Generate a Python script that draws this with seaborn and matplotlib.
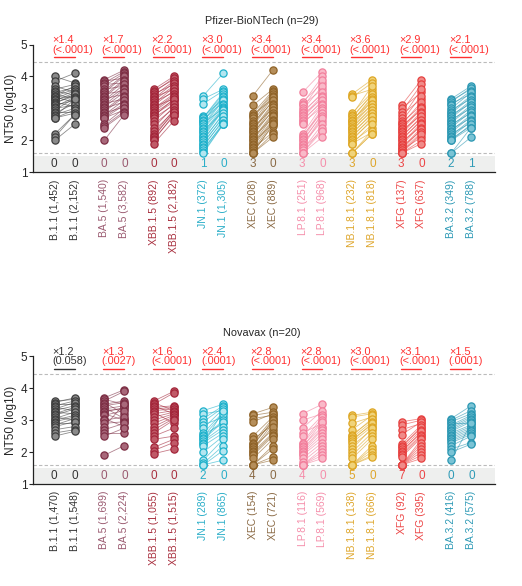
import numpy as np
import pandas as pd
import seaborn as sns
import matplotlib.pyplot as plt

variants = ['B.1.1', 'BA.5', 'XBB.1.5', 'JN.1', 'XEC', 'LP.8.1', 'NB.1.8.1', 'XFG', 'BA.3.2']

# Pfizer-BioNTech, n=29, log10 NT50 before / after
pf_b11_pre = [4.0, 3.85, 3.7, 3.6, 3.55, 3.5, 3.45, 3.4, 3.38, 3.35, 3.3, 3.28, 3.25, 3.2, 3.18, 3.15, 3.1, 3.05, 3.0, 2.95, 2.9, 2.85, 2.8, 2.75, 2.7, 2.7, 2.2, 2.1, 2.0]
pf_b11_post = [3.8, 4.1, 3.5, 3.75, 3.42, 3.65, 3.3, 3.7, 3.6, 3.2, 3.55, 3.4, 3.48, 3.05, 3.38, 3.45, 3.25, 3.35, 3.1, 3.32, 2.9, 3.15, 3.0, 3.28, 2.95, 2.85, 2.8, 2.8, 2.5]
pf_ba5_pre = [3.9, 3.85, 3.8, 3.75, 3.7, 3.6, 3.55, 3.5, 3.45, 3.4, 3.35, 3.3, 3.25, 3.2, 3.15, 3.1, 3.05, 3.0, 2.95, 2.9, 2.85, 2.8, 2.75, 2.7, 2.7, 2.5, 2.45, 2.4, 2.0]
pf_ba5_post = [4.2, 3.95, 4.15, 3.8, 4.1, 3.7, 4.05, 4.0, 3.55, 3.9, 3.85, 3.45, 3.75, 3.65, 3.3, 3.6, 3.5, 3.2, 3.4, 3.35, 3.05, 3.25, 3.15, 2.95, 3.1, 3.0, 2.9, 2.85, 2.8]
pf_xbb_pre = [3.6, 3.55, 3.5, 3.45, 3.4, 3.35, 3.3, 3.25, 3.2, 3.15, 3.1, 3.05, 3.0, 2.95, 2.9, 2.85, 2.8, 2.75, 2.7, 2.6, 2.5, 2.4, 2.3, 2.2, 2.15, 2.1, 2.05, 2.0, 1.9]
pf_xbb_post = [4.0, 3.9, 3.95, 3.75, 3.85, 3.6, 3.8, 3.7, 3.5, 3.65, 3.55, 3.3, 3.45, 3.4, 3.35, 3.25, 3.2, 3.3, 3.1, 3.15, 3.0, 3.05, 2.9, 2.95, 2.85, 2.9, 2.75, 2.8, 2.6]
pf_jn1_pre = [3.4, 3.3, 3.15, 2.75, 2.72, 2.7, 2.65, 2.62, 2.6, 2.55, 2.5, 2.45, 2.4, 2.35, 2.3, 2.25, 2.2, 2.15, 2.1, 2.05, 2.0, 1.95, 1.9, 1.85, 1.8, 1.75, 1.7, 1.65, 1.6]
pf_jn1_post = [4.1, 3.6, 3.55, 3.3, 3.5, 3.45, 3.2, 3.4, 3.35, 3.0, 3.3, 3.25, 3.15, 3.1, 2.9, 3.05, 3.0, 2.98, 2.95, 2.8, 2.85, 2.7, 2.75, 2.6, 2.65, 2.5, 2.55, 2.5, 2.5]
pf_xec_pre = [3.4, 3.1, 2.85, 2.8, 2.75, 2.7, 2.6, 2.55, 2.5, 2.45, 2.4, 2.35, 2.3, 2.25, 2.2, 2.15, 2.1, 2.05, 2.0, 1.95, 1.9, 1.85, 1.8, 1.75, 1.7, 1.65, 1.6, 1.6, 1.6]
pf_xec_post = [4.2, 3.6, 3.55, 3.3, 3.5, 3.45, 3.4, 3.2, 3.35, 3.25, 3.0, 3.15, 3.1, 2.9, 3.05, 2.95, 2.7, 2.85, 2.8, 2.5, 2.75, 2.65, 2.6, 2.25, 2.55, 2.45, 2.5, 2.2, 2.1]
pf_lp81_pre = [3.5, 3.2, 3.15, 3.1, 3.0, 2.95, 2.9, 2.85, 2.8, 2.75, 2.7, 2.65, 2.6, 2.55, 2.5, 2.2, 2.15, 2.1, 2.05, 2.0, 1.95, 1.9, 1.85, 1.8, 1.75, 1.7, 1.6, 1.6, 1.6]
pf_lp81_post = [4.15, 3.8, 4.0, 3.6, 3.9, 3.7, 3.45, 3.5, 3.3, 3.4, 3.35, 3.2, 3.25, 3.05, 3.15, 3.1, 2.9, 3.0, 2.95, 2.8, 2.85, 2.6, 2.75, 2.7, 2.3, 2.5, 2.4, 2.3, 2.1]
pf_nb181_pre = [3.45, 3.4, 3.35, 2.85, 2.8, 2.75, 2.7, 2.65, 2.6, 2.6, 2.55, 2.5, 2.45, 2.4, 2.4, 2.35, 2.3, 2.25, 2.2, 2.15, 2.1, 2.05, 2.0, 1.95, 1.9, 1.9, 1.6, 1.6, 1.6]
pf_nb181_post = [3.9, 3.6, 3.8, 3.5, 3.7, 3.4, 3.45, 3.2, 3.35, 3.3, 3.1, 3.25, 3.15, 3.0, 3.05, 2.9, 2.95, 2.8, 2.85, 2.7, 2.75, 2.6, 2.65, 2.4, 2.5, 2.25, 2.3, 2.2, 2.2]
pf_xfg_pre = [3.1, 3.0, 2.9, 2.8, 2.7, 2.6, 2.55, 2.5, 2.45, 2.4, 2.35, 2.3, 2.25, 2.2, 2.15, 2.1, 2.05, 2.0, 1.95, 1.9, 1.85, 1.8, 1.75, 1.7, 1.7, 1.65, 1.6, 1.6, 1.6]
pf_xfg_post = [3.9, 3.5, 3.75, 3.3, 3.6, 3.4, 3.1, 3.2, 2.95, 3.05, 3.0, 2.8, 2.9, 2.85, 2.7, 2.75, 2.6, 2.65, 2.45, 2.55, 2.5, 2.3, 2.4, 2.35, 2.1, 2.25, 2.2, 2.0, 1.9]
pf_ba32_pre = [3.3, 3.25, 3.2, 3.15, 3.1, 3.0, 2.95, 2.9, 2.85, 2.8, 2.75, 2.7, 2.65, 2.6, 2.55, 2.5, 2.45, 2.4, 2.35, 2.3, 2.25, 2.2, 2.15, 2.1, 2.05, 2.0, 2.0, 1.6, 1.6]
pf_ba32_post = [3.7, 3.6, 3.65, 3.45, 3.55, 3.5, 3.3, 3.4, 3.35, 3.15, 3.25, 3.2, 3.0, 3.1, 3.05, 2.85, 2.95, 2.9, 2.7, 2.8, 2.75, 2.55, 2.65, 2.6, 2.45, 2.5, 2.4, 2.4, 2.1]

# Novavax, n=20
nv_b11_pre = [3.6, 3.55, 3.5, 3.45, 3.4, 3.35, 3.3, 3.25, 3.2, 3.15, 3.1, 3.05, 3.0, 2.95, 2.9, 2.85, 2.8, 2.7, 2.6, 2.5]
nv_b11_post = [3.65, 3.7, 3.5, 3.6, 3.3, 3.55, 3.45, 3.2, 3.4, 3.35, 3.0, 3.25, 3.15, 3.1, 2.9, 3.05, 2.95, 2.8, 2.7, 2.65]
nv_ba5_pre = [3.7, 3.65, 3.6, 3.55, 3.5, 3.45, 3.4, 3.35, 3.3, 3.25, 3.2, 3.15, 3.05, 3.0, 2.9, 2.8, 2.7, 2.6, 2.5, 1.9]
nv_ba5_post = [3.95, 3.5, 3.9, 3.2, 3.6, 3.55, 3.05, 3.45, 3.35, 3.4, 3.0, 3.3, 2.8, 3.1, 2.95, 3.5, 2.9, 2.6, 2.75, 2.2]
nv_xbb_pre = [3.6, 3.55, 3.5, 3.45, 3.4, 3.35, 3.3, 3.25, 3.2, 3.1, 3.0, 2.9, 2.8, 2.7, 2.6, 2.5, 2.4, 2.15, 2.05, 1.95]
nv_xbb_post = [3.9, 3.3, 3.85, 3.2, 3.45, 3.4, 3.35, 2.9, 3.3, 3.25, 3.2, 3.15, 3.1, 3.05, 3.0, 2.75, 2.5, 2.4, 2.3, 2.1]
nv_jn1_pre = [3.3, 3.2, 3.05, 2.95, 2.85, 2.75, 2.6, 2.55, 2.5, 2.45, 2.4, 2.35, 2.3, 2.25, 2.2, 2.0, 1.75, 1.65, 1.6, 1.6]
nv_jn1_post = [3.5, 3.3, 3.45, 3.4, 3.1, 3.35, 3.25, 2.9, 3.2, 3.0, 2.95, 2.8, 2.7, 3.3, 2.6, 2.5, 2.4, 2.2, 2.05, 1.75]
nv_xec_pre = [3.2, 3.15, 3.05, 2.95, 2.5, 2.4, 2.3, 2.25, 2.2, 2.15, 2.1, 2.05, 2.0, 1.95, 1.9, 1.8, 1.6, 1.6, 1.6, 1.6]
nv_xec_post = [3.4, 3.25, 3.15, 3.2, 3.1, 2.85, 3.05, 2.95, 3.0, 2.7, 2.9, 2.8, 2.6, 2.55, 2.5, 2.4, 2.2, 2.1, 1.85, 1.75]
nv_lp81_pre = [3.2, 3.0, 2.75, 2.6, 2.5, 2.3, 2.25, 2.2, 2.15, 2.1, 2.05, 2.0, 1.95, 1.9, 1.8, 1.7, 1.6, 1.6, 1.6, 1.6]
nv_lp81_post = [3.5, 3.2, 3.3, 2.9, 3.15, 3.1, 3.0, 2.8, 2.95, 2.75, 2.7, 2.6, 2.5, 2.4, 2.3, 2.2, 2.1, 2.0, 1.9, 1.8]
nv_nb181_pre = [3.15, 3.1, 2.9, 2.7, 2.55, 2.5, 2.45, 2.4, 2.35, 2.3, 2.2, 2.1, 2.0, 1.9, 1.8, 1.6, 1.6, 1.6, 1.6, 1.6]
nv_nb181_post = [3.25, 3.2, 3.1, 3.15, 3.0, 3.05, 2.95, 2.85, 2.9, 2.8, 2.7, 2.75, 2.6, 2.5, 2.4, 2.2, 2.1, 2.0, 1.9, 1.85]
nv_xfg_pre = [2.95, 2.85, 2.7, 2.55, 2.25, 2.2, 2.15, 2.1, 2.05, 2.0, 1.95, 1.9, 1.85, 1.6, 1.6, 1.6, 1.6, 1.6, 1.6, 1.6]
nv_xfg_post = [3.05, 3.0, 2.9, 2.95, 2.85, 2.75, 2.8, 2.7, 2.6, 2.65, 2.55, 2.5, 2.45, 2.4, 2.3, 2.2, 2.1, 2.0, 1.9, 1.8]
nv_ba32_pre = [3.05, 3.0, 2.95, 2.9, 2.85, 2.8, 2.75, 2.7, 2.65, 2.6, 2.55, 2.5, 2.45, 2.4, 2.35, 2.3, 2.2, 2.1, 2.0, 1.75]
nv_ba32_post = [3.45, 3.3, 3.2, 2.9, 3.15, 3.1, 3.05, 3.0, 2.95, 2.85, 2.8, 2.75, 2.7, 2.65, 2.6, 2.55, 2.5, 2.3, 2.25, 2.9]

# GMTs, folds, p values, counts below LOD
pf_gmt_pre = ['1,452', '1,540', '892', '372', '208', '251', '232', '137', '349']
pf_gmt_post = ['2,152', '3,582', '2,182', '1,305', '889', '968', '818', '637', '788']
pf_fold = ['×1.4', '×1.7', '×2.2', '×3.0', '×3.4', '×3.4', '×3.6', '×2.9', '×2.1']
pf_p = ['(<.0001)'] * 9
pf_lod_pre = [0, 0, 0, 1, 3, 3, 3, 3, 2]
pf_lod_post = [0, 0, 0, 0, 0, 0, 0, 0, 1]

nv_gmt_pre = ['1,470', '1,699', '1,055', '289', '154', '116', '138', '92', '416']
nv_gmt_post = ['1,548', '2,224', '1,515', '865', '721', '569', '666', '395', '575']
nv_fold = ['×1.2', '×1.3', '×1.6', '×2.4', '×2.8', '×2.8', '×3.0', '×3.1', '×1.5']
nv_p = ['(0.058)', '(.0027)', '(<.0001)', '(.0001)', '(<.0001)', '(<.0001)', '(<.0001)', '(<.0001)', '(.0001)']
nv_lod_pre = [0, 0, 0, 2, 4, 4, 5, 7, 0]
nv_lod_post = [0, 0, 0, 0, 0, 0, 0, 0, 0]

edge_colors = ['#3f3f3f', '#7d2f45', '#a3263a', '#1fb1cb', '#8f6328', '#f27f9c', '#dda624', '#e6403f', '#2b97b2']
face_colors = ['#8a8a8a', '#a8687a', '#c05a68', '#b3e6f0', '#b58e5a', '#f9b9c8', '#f0d37a', '#f08a88', '#7ac3d5']
text_colors = ['#333333', '#9a5a70', '#a8303f', '#2aaec8', '#8a6a45', '#f58fab', '#dea52a', '#ec4545', '#2e9ab6']

sns.set_style('ticks')
plt.rcParams['font.family'] = ['Liberation Sans', 'DejaVu Sans']

fig = plt.figure(figsize=(5.22, 5.86), dpi=100)
ax_top = fig.add_axes([0.063, 0.706, 0.885, 0.218])
ax_bot = fig.add_axes([0.063, 0.174, 0.885, 0.218])

panels = [
    (ax_top,
     [pf_b11_pre, pf_ba5_pre, pf_xbb_pre, pf_jn1_pre, pf_xec_pre, pf_lp81_pre, pf_nb181_pre, pf_xfg_pre, pf_ba32_pre],
     [pf_b11_post, pf_ba5_post, pf_xbb_post, pf_jn1_post, pf_xec_post, pf_lp81_post, pf_nb181_post, pf_xfg_post, pf_ba32_post],
     pf_gmt_pre, pf_gmt_post, pf_fold, pf_p, pf_lod_pre, pf_lod_post),
    (ax_bot,
     [nv_b11_pre, nv_ba5_pre, nv_xbb_pre, nv_jn1_pre, nv_xec_pre, nv_lp81_pre, nv_nb181_pre, nv_xfg_pre, nv_ba32_pre],
     [nv_b11_post, nv_ba5_post, nv_xbb_post, nv_jn1_post, nv_xec_post, nv_lp81_post, nv_nb181_post, nv_xfg_post, nv_ba32_post],
     nv_gmt_pre, nv_gmt_post, nv_fold, nv_p, nv_lod_pre, nv_lod_post),
]

for ax, pre_sets, post_sets, g_pre, g_post, folds, pvals, lod_pre, lod_post in panels:
    ax.axhspan(1, 1.5, color='#eeefee', lw=0, zorder=0)
    ax.axhline(1.6, color='#bbbbbb', ls=(0, (3, 2)), lw=0.8, zorder=1)
    ax.axhline(4.45, color='#bbbbbb', ls=(0, (3, 2)), lw=0.8, zorder=1)

    ticks, labels, lab_cols = [], [], []
    for i, v in enumerate(variants):
        pre, post = pre_sets[i], post_sets[i]
        n = len(pre)
        d = pd.DataFrame({
            'subject': list(range(n)) * 2,
            'x': [i - 0.2] * n + [i + 0.2] * n,
            'value': pre + post,
        })
        sns.lineplot(data=d, x='x', y='value', units='subject', estimator=None,
                     color=edge_colors[i], lw=0.6, alpha=0.6, ax=ax, legend=False, zorder=2)
        sns.scatterplot(data=d, x='x', y='value', color=face_colors[i],
                        edgecolor=edge_colors[i], linewidth=0.9, s=27, ax=ax,
                        legend=False, zorder=3)

        ax.text(i - 0.21, 1.25, str(lod_pre[i]), ha='center', va='center',
                fontsize=8.5, color=text_colors[i])
        ax.text(i + 0.21, 1.25, str(lod_post[i]), ha='center', va='center',
                fontsize=8.5, color=text_colors[i])

        acol = '#333333' if pvals[i] == '(0.058)' else '#ff3030'
        ax.text(i - 0.25, 5.13, folds[i], ha='left', va='center', fontsize=7.8, color=acol)
        ax.text(i - 0.25, 4.84, pvals[i], ha='left', va='center', fontsize=7.8, color=acol)
        ax.plot([i - 0.22, i + 0.2], [4.6, 4.6], color=acol, lw=1.0, clip_on=False)

        ticks += [i - 0.2, i + 0.2]
        labels += [f'{v} ({g_pre[i]})', f'{v} ({g_post[i]})']
        lab_cols += [text_colors[i], text_colors[i]]

    ax.set_xlim(-0.64, 8.68)
    ax.set_ylim(1, 5)
    ax.set_yticks([1, 2, 3, 4, 5])
    ax.set_xticks(ticks)
    ax.set_xticklabels(labels, rotation=90, fontsize=7.5)
    for lab, c in zip(ax.get_xticklabels(), lab_cols):
        lab.set_color(c)
    ax.tick_params(axis='x', length=0, pad=5)
    ax.tick_params(axis='y', labelsize=8.5, length=3, width=0.8, pad=1)
    ax.set_xlabel('')
    ax.set_ylabel('NT50 (log10)', fontsize=8.5, labelpad=3)
    sns.despine(ax=ax)
    for s in ['left', 'bottom']:
        ax.spines[s].set_linewidth(0.9)
        ax.spines[s].set_color('#222222')

fig.text(0.502, 1 - 21 / 586, 'Pfizer-BioNTech (n=29)', ha='center', va='center', fontsize=7.8)
fig.text(0.502, 1 - 333 / 586, 'Novavax (n=20)', ha='center', va='center', fontsize=7.8)

fig.savefig('out.png', dpi=100)
